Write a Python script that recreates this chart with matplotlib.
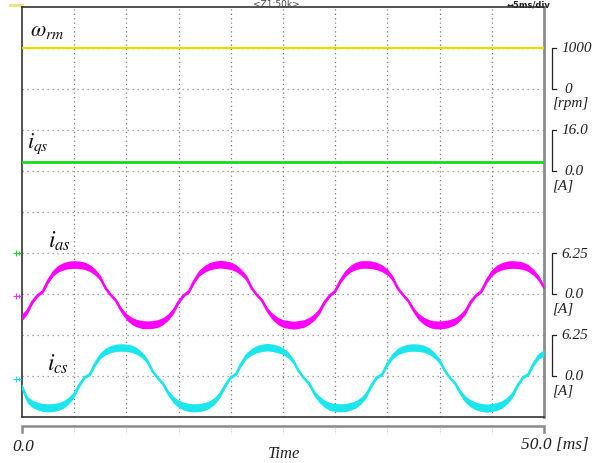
import numpy as np
import matplotlib
matplotlib.use("Agg")
import matplotlib.pyplot as plt
from matplotlib.transforms import blended_transform_factory
from matplotlib.path import Path

plt.rcParams["mathtext.fontset"] = "stix"

# ---- scope capture: 0 .. 50 ms, 5 ms/div ----
time_ms = np.linspace(0.0, 50.0, 101)

speed_t = [0.0, 12.5, 25.0, 37.5, 50.0]
speed_rpm = [1000, 1000, 1000, 1000, 1000]

iqs_t = [0.0, 12.5, 25.0, 37.5, 50.0]
iqs_a = [3.6, 3.6, 3.6, 3.6, 3.6]

ias_a = [
    -3.55, -2.65, -1.2, -0.2, 0.4, 2.0, 3.25, 3.9, 4.25, 4.45, 4.5, 4.45, 4.3, 3.95,
    3.35, 2.45, 0.9, -0.15, -1.0, -2.45, -3.45, -4.1, -4.45, -4.65, -4.7, -4.65, -4.5, -4.15,
    -3.5, -2.6, -1.2, -0.2, 0.4, 2.0, 3.25, 3.85, 4.25, 4.45, 4.55, 4.45, 4.3, 3.95,
    3.3, 2.45, 0.9, -0.15, -1.0, -2.5, -3.45, -4.1, -4.5, -4.65, -4.75, -4.65, -4.5, -4.1,
    -3.5, -2.6, -1.2, -0.2, 0.45, 2.0, 3.2, 3.9, 4.3, 4.5, 4.5, 4.45, 4.25, 3.9,
    3.35, 2.4, 0.85, -0.15, -1.05, -2.45, -3.5, -4.1, -4.5, -4.7, -4.7, -4.65, -4.45, -4.15,
    -3.5, -2.6, -1.15, -0.2, 0.4, 2.0, 3.25, 3.9, 4.25, 4.45, 4.5, 4.45, 4.3, 3.95,
    3.3, 2.4, 1.0,
]

ics_a = [
    -1.6, -3.6, -4.25, -4.6, -4.8, -4.85, -4.8, -4.65, -4.3,
    -3.7, -2.8, -1.35, -0.2, 0.25, 1.85, 3.1, 3.75, 4.1, 4.3, 4.35, 4.3, 4.15, 3.8,
    3.2, 2.3, 0.75, -0.3, -1.15, -2.6, -3.6, -4.25, -4.6, -4.8, -4.85, -4.8, -4.65, -4.3,
    -3.7, -2.75, -1.35, -0.2, 0.3, 1.85, 3.1, 3.7, 4.1, 4.3, 4.4, 4.3, 4.1, 3.8,
    3.2, 2.25, 0.75, -0.3, -1.15, -2.65, -3.6, -4.25, -4.65, -4.8, -4.85, -4.8, -4.6, -4.3,
    -3.7, -2.8, -1.35, -0.2, 0.25, 1.85, 3.05, 3.75, 4.1, 4.3, 4.35, 4.3, 4.15, 3.8,
    3.15, 2.3, 0.8, -0.3, -1.15, -2.6, -3.6, -4.2, -4.6, -4.8, -4.9, -4.8, -4.65, -4.3,
    -3.7, -2.8, -1.35, -0.2, 0.25, 1.85, 3.05, 3.5,
]

# channel scale brackets: [zero, one division]
speed_scale = [0, 1000]
iqs_scale = [0.0, 16.0]
phase_scale = [0.0, 6.25]

W, H = 599, 464
fig = plt.figure(figsize=(W / 100, H / 100), dpi=100)
fig.patch.set_facecolor("white")
rect = [22 / W, 46 / H, 522 / W, 410 / H]

ax = fig.add_axes(rect)
ax.set_xlim(0, 50)
ax.set_ylim(0, 10)
ax.set_xticks([])
ax.set_yticks([])
for side in ("left", "top", "bottom"):
    ax.spines[side].set_color("#333333")
    ax.spines[side].set_linewidth(1.2)
ax.spines["right"].set_color("#8c8c8c")
ax.spines["right"].set_linewidth(2.0)

for gx in range(5, 50, 5):
    ax.axvline(gx, color="#7a7a7a", lw=0.9, ls=(0, (1, 2.5)), zorder=1)
for gy in range(1, 10):
    ax.axhline(gy, color="#8a8a8a", lw=0.9, ls=(0, (1, 3)), zorder=1)

serif = dict(family="Liberation Serif", style="italic", color="#222222")


def channel_axes(per_div, zero_div):
    a = fig.add_axes(rect, sharex=ax)
    a.set_ylim(-zero_div * per_div, (10 - zero_div) * per_div)
    a.axis("off")
    a.patch.set_visible(False)
    return a


def scale_bracket(a, scale, top_txt, bot_txt, unit):
    tr = blended_transform_factory(a.transAxes, a.transData)
    lo, hi = scale
    a.plot([1.023, 1.0153, 1.0153, 1.023], [hi, hi, lo, lo], color="#222222",
           lw=0.9, transform=tr, clip_on=False)
    a.text(1.033, hi, top_txt, transform=tr, ha="left", va="center", fontsize=11, **serif)
    a.text(1.039, lo, bot_txt, transform=tr, ha="left", va="center", fontsize=11, **serif)
    a.annotate(unit, xy=(1.0153, lo), xycoords=tr, xytext=(0, -10),
               textcoords="offset points", ha="left", va="center", fontsize=11, **serif)


def band(a, t, v, color):
    v = np.asarray(v)
    half = 0.18 + 0.09 * np.abs(v)
    a.fill_between(t, v - half, v + half, color=color, lw=0, zorder=3)
    a.plot(t, v, color=color, lw=1.8, zorder=3, solid_joinstyle="round")


ax_w = channel_axes(1000, 8)
ax_w.plot(speed_t, speed_rpm, color="#e6dc00", lw=1.6, zorder=3)
scale_bracket(ax_w, speed_scale, "1000", "0", "[rpm]")

ax_q = channel_axes(16.0, 6)
ax_q.plot(iqs_t, iqs_a, color="#19d919", lw=2.0, zorder=3)
scale_bracket(ax_q, iqs_scale, "16.0", "0.0", "[A]")

ax_a = channel_axes(6.25, 3)
band(ax_a, time_ms, ias_a, "#ff00ff")
scale_bracket(ax_a, phase_scale, "6.25", "0.0", "[A]")

ax_c = channel_axes(6.25, 1)
band(ax_c, time_ms, ics_a, "#1ae6ec")
scale_bracket(ax_c, phase_scale, "6.25", "0.0", "[A]")

# trace names
ax.text(0.77, 9.45, r"$\omega_{rm}$", fontsize=16, ha="left", va="center", color="#111111")
ax.text(0.48, 6.70, r"$i_{qs}$", fontsize=16, ha="left", va="center", color="#111111")
ax.text(2.49, 4.32, r"$i_{as}$", fontsize=17, ha="left", va="center", color="#111111")
ax.text(2.39, 1.32, r"$i_{cs}$", fontsize=17, ha="left", va="center", color="#111111")

# channel ground markers on the left edge
gnd = Path([(-1.0, 0.0), (1.0, 0.0), (-0.3, -0.8), (-0.3, 0.8), (0.4, -0.5), (0.4, 0.5)],
           [Path.MOVETO, Path.LINETO, Path.MOVETO, Path.LINETO, Path.MOVETO, Path.LINETO])
for ydiv, col in ((4.0, "#33cc33"), (2.95, "#e040e0"), (0.93, "#30d8e0")):
    ax.plot([-0.48], [ydiv], marker=gnd, ms=6, mfc="none", mec=col, mew=0.9,
            clip_on=False, zorder=5)
ax.plot([-0.023, 0.0], [1.0037, 1.0037], transform=ax.transAxes, color="#ece27a",
        lw=2.0, clip_on=False)

# time bar under the screen
ax.plot([0.0, 0.0, 1.0, 1.0], [-0.0366, -0.022, -0.022, -0.0366], transform=ax.transAxes,
        color="#8a8a8a", lw=1.8, clip_on=False, solid_joinstyle="miter")
for gx in range(5, 50, 5):
    ax.plot([gx, gx], [-0.26, -0.42], color="#c8c8c8", lw=0.8, ls=(0, (1, 1.5)),
            clip_on=False)

fig.text(12 / W, 1 - 447 / H, "0.0", ha="left", va="center", fontsize=12.5, **serif)
fig.text(589 / W, 1 - 445 / H, "50.0 [ms]", ha="right", va="center", fontsize=12.5, **serif)
fig.text(284 / W, 1 - 454 / H, "Time", ha="center", va="center", fontsize=12, **serif)

fig.text(276 / W, 1 - 4.5 / H, "<Z1:50k>", ha="center", va="center", fontsize=6.5,
         family="DejaVu Sans", color="#444444")
fig.text(507 / W, 1 - 5.5 / H, "\u21945ms/div", ha="left", va="center", fontsize=6,
         family="DejaVu Sans", color="#222222", fontweight="bold")

fig.savefig("out.png", dpi=100)
